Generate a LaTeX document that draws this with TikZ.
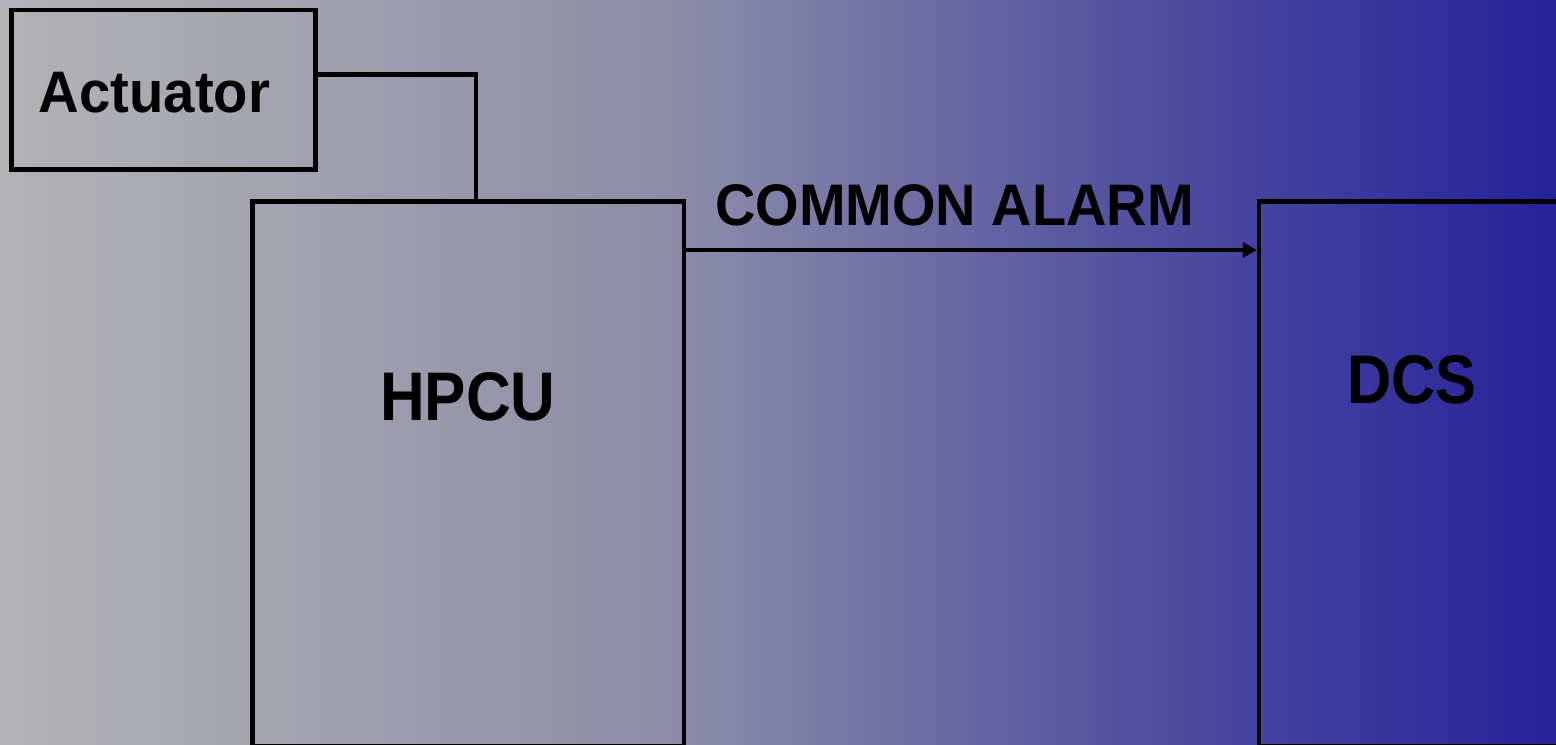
\documentclass[tikz,border=0pt]{standalone}
\usepackage{fontspec}
\setmainfont{Liberation Sans}
\usetikzlibrary{fit,arrows.meta}

\definecolor{bgA}{HTML}{B3B3B5}
\definecolor{bgB}{HTML}{8A8AA8}
\definecolor{bgC}{HTML}{5352A0}
\definecolor{bgD}{HTML}{25229A}
% left-to-right backdrop; the path is mapped onto 25bp..75bp
\pgfdeclarehorizontalshading{backdrop}{100bp}{color(0bp)=(bgA); color(25bp)=(bgA); color(47.5bp)=(bgB); color(61bp)=(bgC); color(75bp)=(bgD); color(100bp)=(bgD)}

% narrowed bold label text
\newcommand{\narrowtext}[2]{\scalebox{#1}[1]{#2}}

\tikzset{
  unitbox/.style={draw=black, line width=2.25pt, inner sep=0pt, fill=none},
  smalltitle/.style={font=\fontsize{29.3}{34}\selectfont\bfseries, inner sep=0pt},
  bigtitle/.style={font=\fontsize{34.4}{40}\selectfont\bfseries, inner sep=0pt},
  wire/.style={draw=black, line width=2.25pt},
}

\begin{document}
\begin{tikzpicture}[x=0.5pt,y=-0.5pt]
  \useasboundingbox (0,0) rectangle (1556,744);
  \clip (0,0) rectangle (1556,744);
  \shade[shading=backdrop] (0,0) rectangle (1556,744);

  % boxes
  \node[unitbox, fit={(11.5,10) (315.5,169.5)}] (act) {};
  \node[unitbox, fit={(252.5,201.5) (684,746)}] (hpcu) {};
  \node[unitbox, fit={(1259,201.5) (1620,746)}] (dcs) {};

  % box titles
  \node[smalltitle] (actlbl) at (154.5,92.5) {\narrowtext{0.96}{Actuator}};
  \node[bigtitle] (hpculbl) at (468,396.5) {\narrowtext{0.90}{HPCU}};
  \node[bigtitle] (dcslbl) at (1412,380) {\narrowtext{0.89}{DCS}};
  \node[smalltitle] (alarmlbl) at (954.5,205) {\narrowtext{0.955}{COMMON ALARM}};

  % connectors
  \coordinate (bend) at (476,74.5);
  \coordinate (alarmrow) at (0,250);
  \draw[wire, line join=miter] (act.east |- bend) -- (bend) -- (hpcu.north -| bend);
  \draw[wire, -{Triangle[length=7pt,width=7.5pt]}] (hpcu.east |- alarmrow) -- (dcs.west |- alarmrow);
\end{tikzpicture}
\end{document}
